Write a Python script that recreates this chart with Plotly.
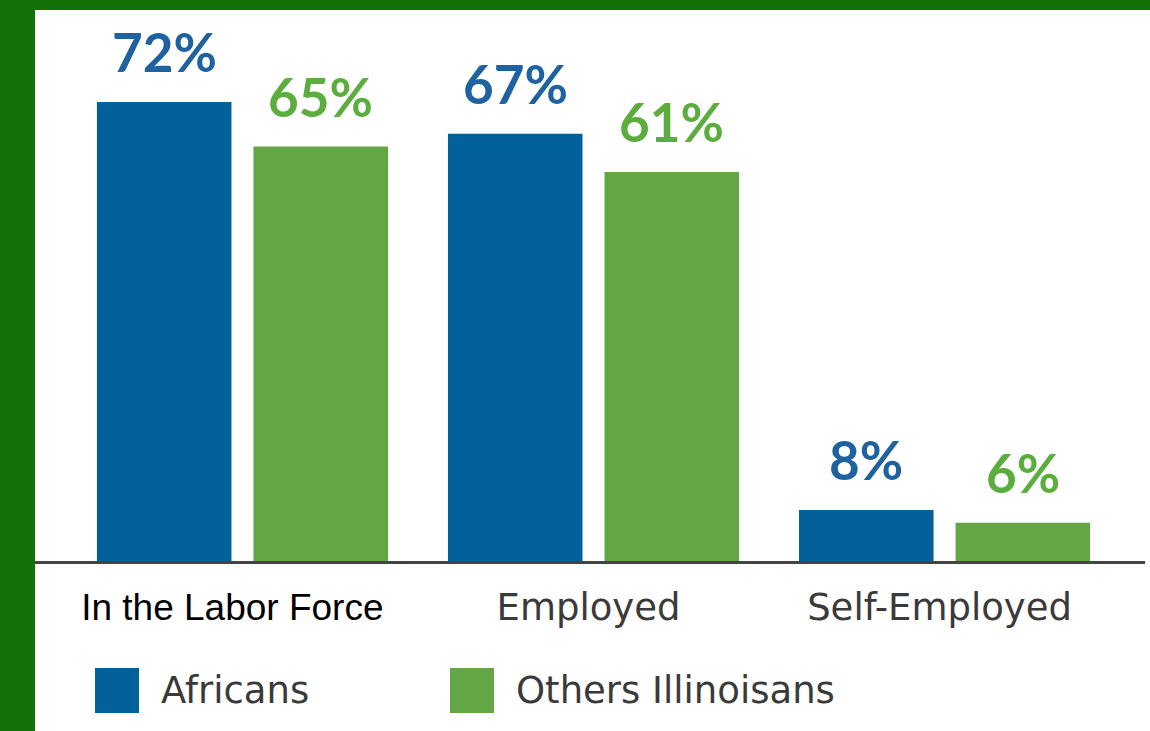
import plotly.graph_objects as go

# Labour-market indicators, percent of population
categories = ["In the Labor Force", "Employed", "Self-Employed"]
africans = [72, 67, 8]
others = [65, 61, 6]
series_names = ["Africans", "Others Illinoisans"]

BLUE = "#02609A"
GREEN = "#62A744"
BLUE_TXT = "#1E62A0"
GREEN_TXT = "#5BAE3E"
FRAME = "#137207"
GREY_TXT = "#3a3a3a"

W, H = 1150, 731
M_L, M_R, M_T, M_B = 35, 5, 10, 170
PW, PH = W - M_L - M_R, H - M_T - M_B

BARGAP = 0.108
BARGROUPGAP = 0.1406


def px_x(px):
    return (px - M_L) / PW


def px_y(py):
    return (H - M_B - py) / PH


fig = go.Figure()
for name, vals, col in [(series_names[0], africans, BLUE), (series_names[1], others, GREEN)]:
    fig.add_bar(x=list(range(len(categories))), y=vals, name=name,
                marker=dict(color=col, line=dict(width=0)), showlegend=False)

# value labels above each bar, offset to the centre of its slot in the group
half = (1 - BARGAP) / 4
annotations = []
for vals, col, sign in [(africans, BLUE_TXT, -1), (others, GREEN_TXT, 1)]:
    for i, v in enumerate(vals):
        annotations.append(dict(
            x=i + sign * half, y=v, xref="x", yref="y", text=f"{v}%",
            showarrow=False, yanchor="bottom", yshift=17,
            font=dict(family="Lato", size=53, color=col, weight="bold")))

# legend drawn as swatches with labels
legend_items = [(BLUE, series_names[0], 95), (GREEN, series_names[1], 450)]
shapes = [
    dict(type="rect", xref="paper", yref="paper", x0=0, x1=1.02, y0=-0.4, y1=1,
         fillcolor="white", line=dict(width=0), layer="below"),
]
for col, label, x0 in legend_items:
    shapes.append(dict(type="rect", xref="paper", yref="paper",
                       x0=px_x(x0), x1=px_x(x0 + 44), y0=px_y(713), y1=px_y(668),
                       fillcolor=col, line=dict(width=0)))
    annotations.append(dict(x=px_x(x0 + 64), y=px_y(690), xref="paper", yref="paper",
                            text=label, showarrow=False, xanchor="left", yanchor="middle",
                            font=dict(family="DejaVu Sans", size=37, color=GREY_TXT)))

ticktext = [
    f"<span style='font-family:Liberation Sans;color:#000000'>{categories[0]}&nbsp;</span>",
    categories[1],
    categories[2],
]

fig.update_layout(
    width=W, height=H,
    margin=dict(l=M_L, r=M_R, t=M_T, b=M_B),
    paper_bgcolor=FRAME, plot_bgcolor="white",
    barmode="group", bargap=BARGAP, bargroupgap=BARGROUPGAP,
    showlegend=False,
    shapes=shapes, annotations=annotations,
    xaxis=dict(range=[-0.591, 2.571], tickmode="array",
               tickvals=list(range(len(categories))), ticktext=ticktext,
               showgrid=False, zeroline=False, showline=True,
               linecolor="#444444", linewidth=3, ticks="", ticklabelstandoff=12,
               ticklabelshift=-5,
               tickfont=dict(family="DejaVu Sans", size=37, color=GREY_TXT)),
    yaxis=dict(range=[0, 86.43], visible=False, showgrid=False, zeroline=False),
)

fig.write_html("out.html")
